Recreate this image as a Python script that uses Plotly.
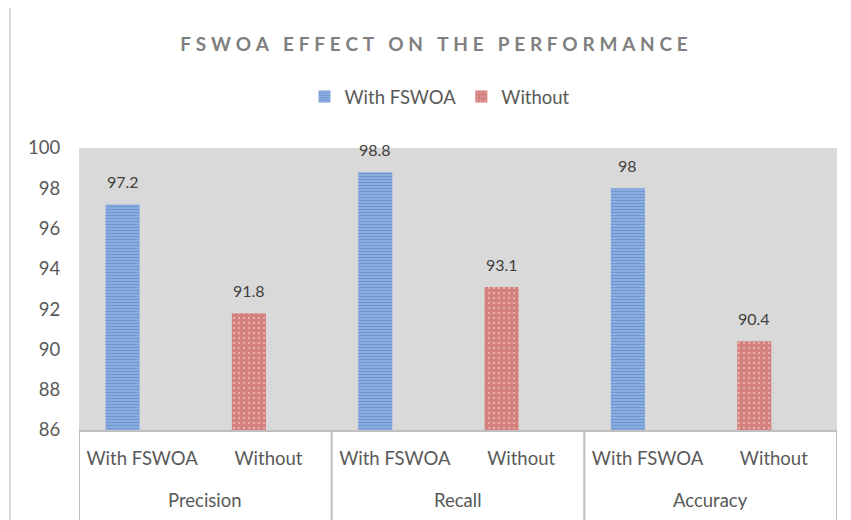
import plotly.graph_objects as go

metrics = ["Precision", "Precision", "Recall", "Recall", "Accuracy", "Accuracy"]
kinds = ["With FSWOA", "Without", "With FSWOA", "Without", "With FSWOA", "Without"]
groups = ["Precision", "Recall", "Accuracy"]
series_names = ["With FSWOA", "Without"]
values = [97.2, 91.8, 98.8, 93.1, 98.0, 90.4]
value_labels = ["97.2", "91.8", "98.8", "93.1", "98", "90.4"]
title_text = "FSWOA EFFECT ON THE PERFORMANCE"

FONT = "Lato"
TXT = "#595959"
GRID = "#bfbfbf"
BAR_OFFSET = -0.29
BAR_WIDTH = 0.27

positions = list(range(len(kinds)))

styles = {
    "With FSWOA": dict(color="#8fb0e0", pattern=dict(shape="-", fgcolor="#4474c2", bgcolor="#9dbbe6",
                                                     size=3, solidity=0.62, fillmode="overlay")),
    "Without": dict(color="#d07472", pattern=dict(shape="+", fgcolor="#c0504d", bgcolor="#e6b0af",
                                                  size=5, solidity=0.85, fillmode="overlay")),
}

fig = go.Figure()
for s in series_names:
    xs = [p for p, k in zip(positions, kinds) if k == s]
    ys = [v for v, k in zip(values, kinds) if k == s]
    fig.add_trace(go.Bar(
        name=s, x=xs, y=ys, offset=BAR_OFFSET, width=BAR_WIDTH,
        marker=dict(color=styles[s]["color"], pattern=styles[s]["pattern"], line=dict(width=0)),
    ))

# data labels centred above each bar
for p, v, lab in zip(positions, values, value_labels):
    fig.add_annotation(x=p + BAR_OFFSET + BAR_WIDTH / 2, y=v, xref="x", yref="y", text=lab,
                       showarrow=False, yanchor="bottom", yshift=11,
                       font=dict(family=FONT, size=16, color="#404040"))

# group (outer category) labels and dividers
group_idx = {}
for p, m in zip(positions, metrics):
    group_idx.setdefault(m, []).append(p)
for g in groups:
    ps = group_idx[g]
    fig.add_annotation(x=sum(ps) / len(ps), y=0, xref="x", yref="paper", text=g, showarrow=False,
                       yanchor="middle", yshift=-70, font=dict(family=FONT, size=18.5, color=TXT))
bounds = [min(group_idx[groups[0]]) - 0.5] + [max(group_idx[g]) + 0.5 for g in groups]
for b in bounds:
    fig.add_shape(type="line", xref="x", yref="paper", ysizemode="pixel", yanchor=0,
                  x0=b, x1=b, y0=0, y1=-100, line=dict(color=GRID, width=2))

spaced = "\u2009\u2009".join(list(title_text))

# page body has an 8px margin; figure is sized to fill the rest of the window
fig.update_layout(
    width=843, height=512,
    margin=dict(l=71, r=14, t=140, b=90),
    paper_bgcolor="white", plot_bgcolor="#d9d9d9",
    barmode="overlay",
    title=dict(text="<b>" + spaced + "</b>", x=(434 - 8) / 843, xref="container",
               y=1 - (44 - 8) / 512, yref="container", xanchor="center", yanchor="middle",
               font=dict(family=FONT, size=19, color="#7f7f7f")),
    legend=dict(orientation="h", x=(440 - 8) / 843, xref="container", xanchor="center",
                y=1 - (97 - 8) / 512, yref="container", yanchor="middle",
                font=dict(family=FONT, size=18.5, color=TXT), itemwidth=30, traceorder="normal"),
    font=dict(family=FONT, color=TXT),
    showlegend=True,
)
fig.update_yaxes(range=[86, 100], dtick=2, showgrid=False, zeroline=False, showline=False,
                 ticks="outside", ticklen=14, tickcolor="rgba(0,0,0,0)",
                 tickfont=dict(family=FONT, size=18.5, color=TXT))
fig.update_xaxes(range=[-0.5, len(kinds) - 0.5], tickvals=positions, ticktext=kinds,
                 showgrid=False, zeroline=False, showline=True, linecolor=GRID, linewidth=2,
                 ticks="outside", ticklen=11, tickcolor="rgba(0,0,0,0)",
                 tickfont=dict(family=FONT, size=18.5, color=TXT))

# outer chart border
fig.add_shape(type="rect", xref="paper", yref="paper", xsizemode="pixel", ysizemode="pixel",
              xanchor=0, yanchor=0, x0=-69, x1=800, y0=-120, y1=423,
              line=dict(color="#d9d9d9", width=2), fillcolor="rgba(0,0,0,0)", layer="below")

fig.write_html("out.html")
